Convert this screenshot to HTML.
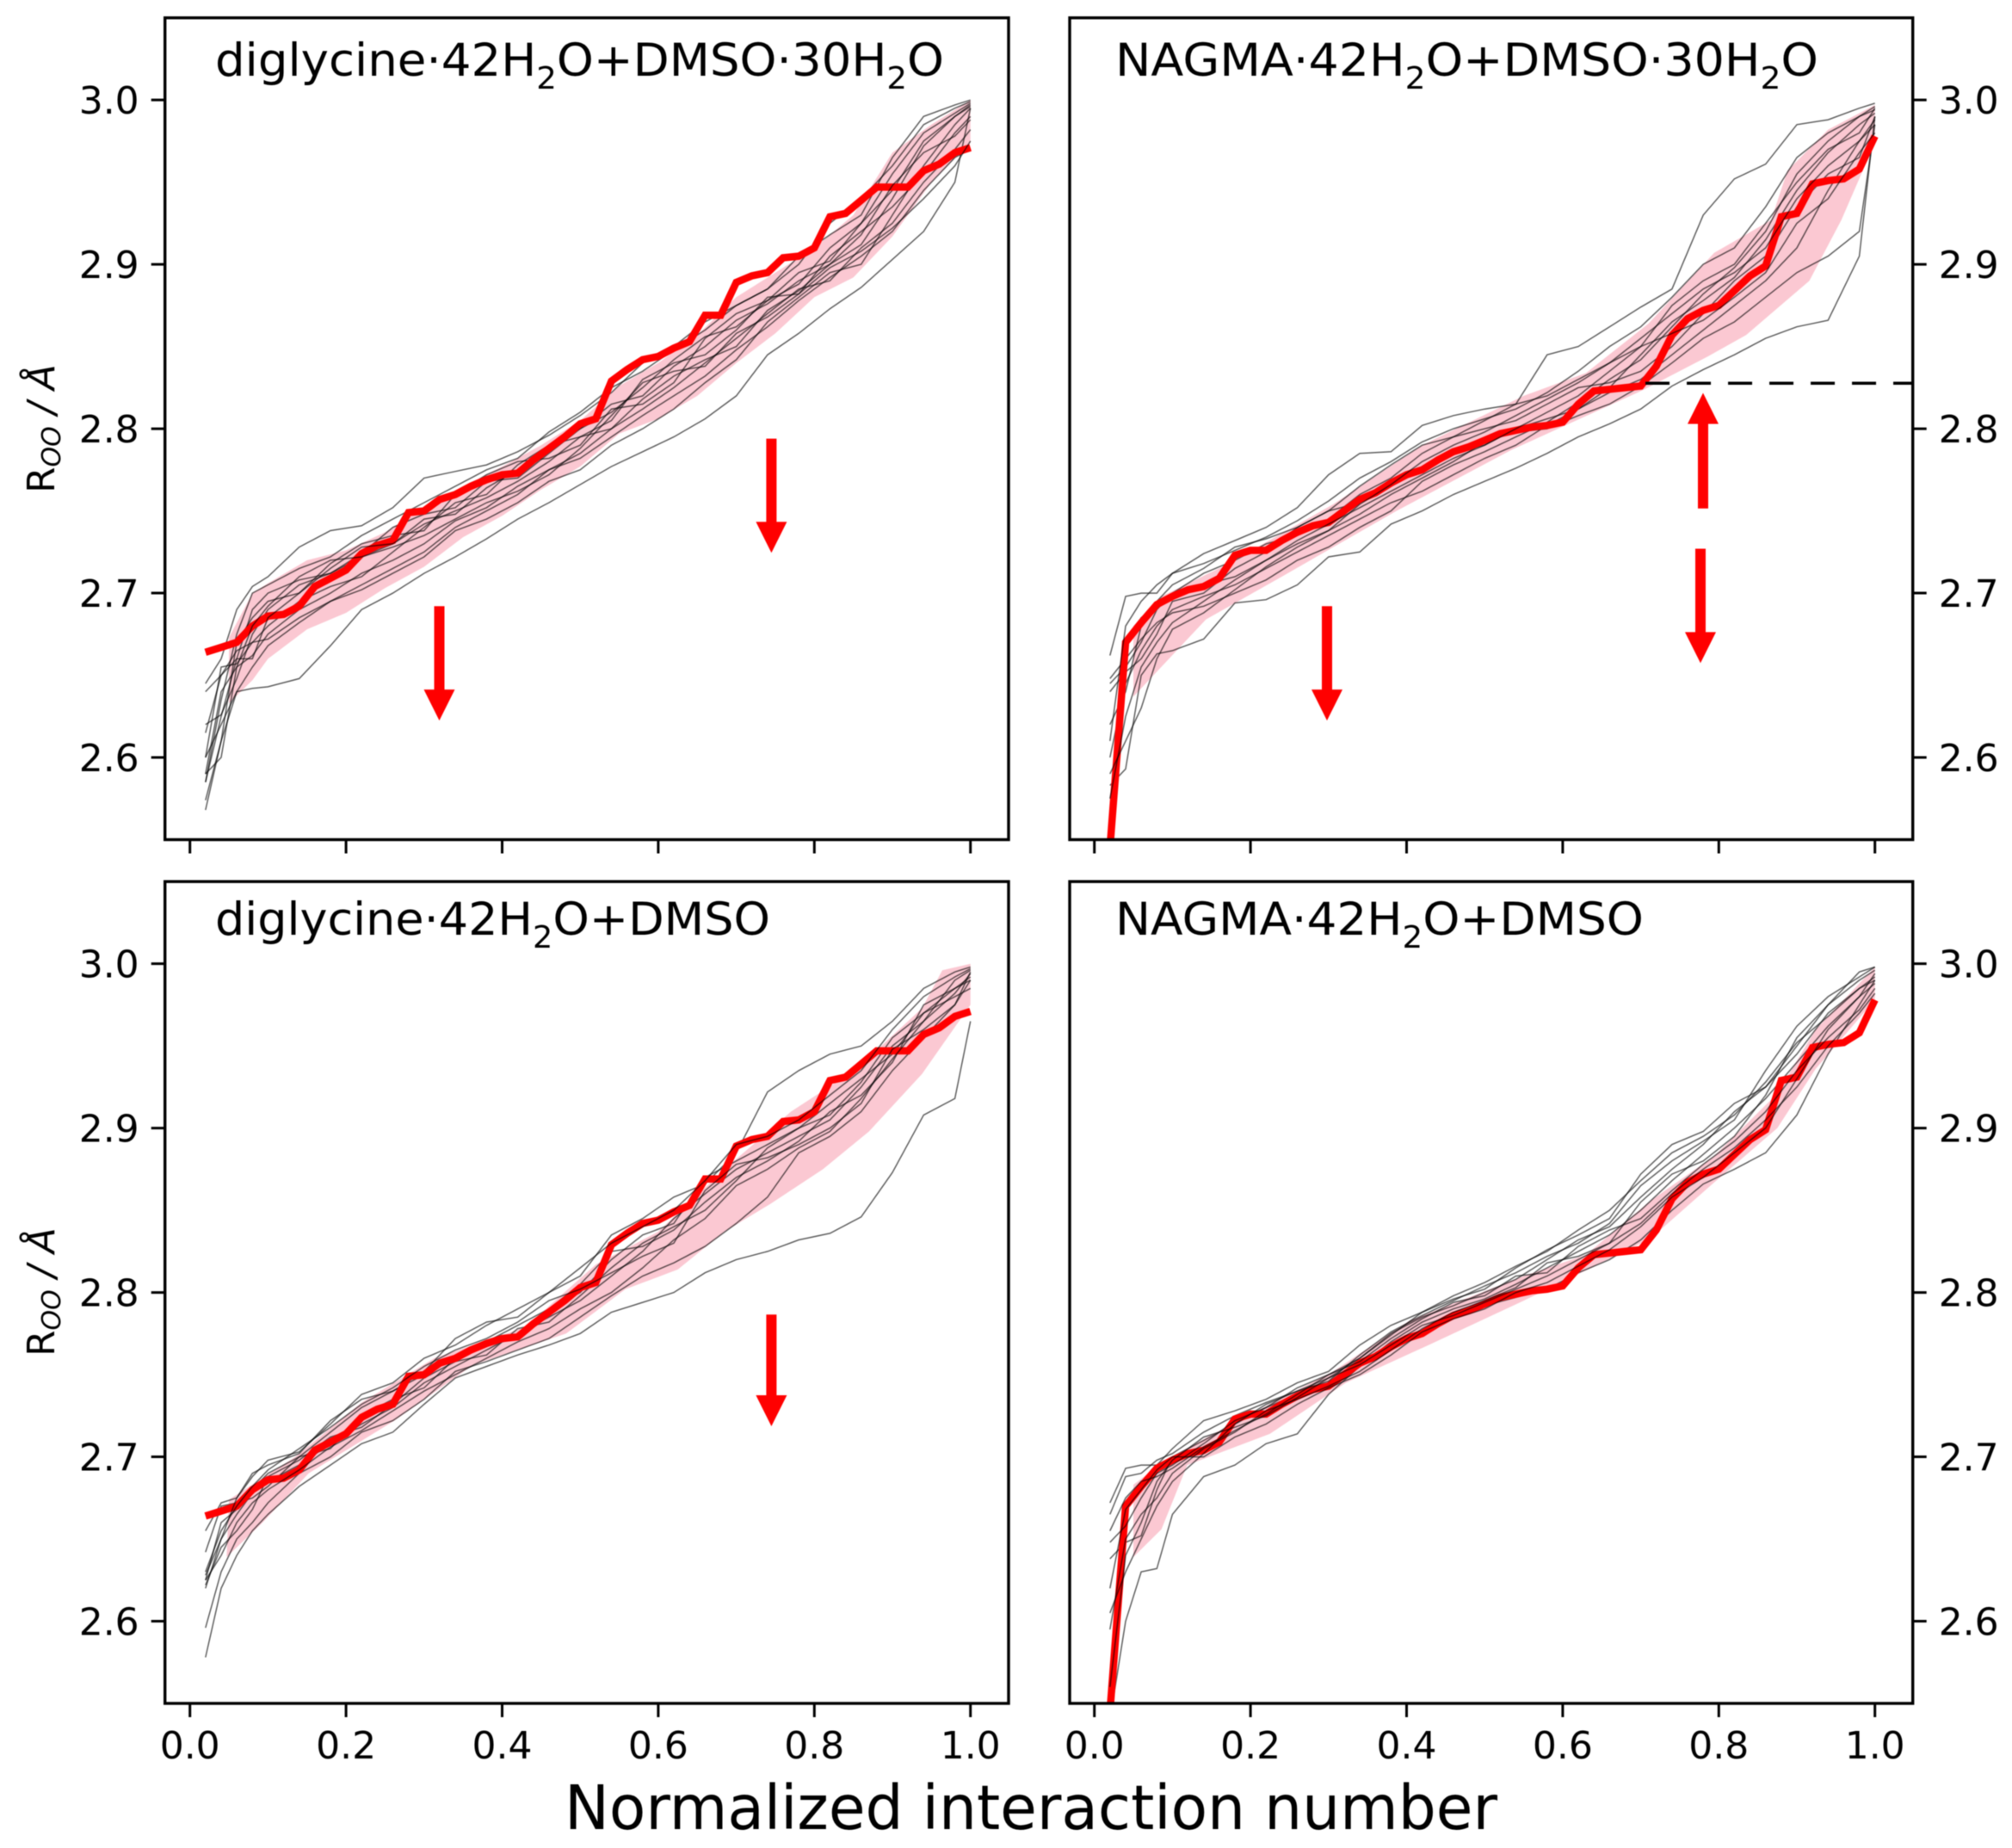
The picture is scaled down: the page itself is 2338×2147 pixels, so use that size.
<!DOCTYPE html>
<html lang="en">
<head>
<meta charset="utf-8">
<title>Sorted O-O distances vs normalized interaction number</title>
<style>
  html, body { margin: 0; padding: 0; background: #fff; }
  svg { display: block; filter: blur(0.5px); }
  .tick-label { font-family: "DejaVu Sans", "Liberation Sans", sans-serif; font-size: 44px; fill: #000; }
  .panel-title { font-family: "DejaVu Sans", "Liberation Sans", sans-serif; font-size: 53px; fill: #000; }
  .axis-label { font-family: "DejaVu Sans", "Liberation Sans", sans-serif; font-size: 43.5px; fill: #000; }
  .figure-label { font-family: "DejaVu Sans", "Liberation Sans", sans-serif; font-size: 71px; fill: #000; }
</style>
</head>
<body>
<svg id="figure" xmlns="http://www.w3.org/2000/svg" width="2338" height="2147" viewBox="0 0 2338 2147">
  <rect x="0" y="0" width="2338" height="2147" fill="#fff"/>
  <defs>
    <clipPath id="clip-a"><rect x="191.7" y="20.7" width="980.3" height="954.8"/></clipPath>
    <clipPath id="clip-b"><rect x="1243" y="20.7" width="979.7" height="954.8"/></clipPath>
    <clipPath id="clip-c"><rect x="191.7" y="1024.2" width="980.3" height="954.8"/></clipPath>
    <clipPath id="clip-d"><rect x="1243" y="1024.2" width="979.7" height="954.8"/></clipPath>
  </defs>
  <g id="panel-a"></g>
  <g id="panel-b"></g>
  <g id="panel-c"></g>
  <g id="panel-d"></g>

  <text class="panel-title" x="250" y="88" textLength="847" lengthAdjust="spacingAndGlyphs">diglycine·42H<tspan font-size="36" dy="15">2</tspan><tspan dy="-15">O+DMSO·30H</tspan><tspan font-size="36" dy="15">2</tspan><tspan dy="-15">O</tspan></text>
  <text class="panel-title" x="1296" y="88" textLength="817" lengthAdjust="spacingAndGlyphs">NAGMA·42H<tspan font-size="36" dy="15">2</tspan><tspan dy="-15">O+DMSO·30H</tspan><tspan font-size="36" dy="15">2</tspan><tspan dy="-15">O</tspan></text>
  <text class="panel-title" x="250" y="1086" textLength="645" lengthAdjust="spacingAndGlyphs">diglycine·42H<tspan font-size="36" dy="15">2</tspan><tspan dy="-15">O+DMSO</tspan></text>
  <text class="panel-title" x="1296" y="1086" textLength="614" lengthAdjust="spacingAndGlyphs">NAGMA·42H<tspan font-size="36" dy="15">2</tspan><tspan dy="-15">O+DMSO</tspan></text>

  <text class="axis-label" text-anchor="middle" transform="translate(63,498) rotate(-90)">R<tspan font-size="30" font-style="italic" dy="7">OO</tspan><tspan font-style="italic" dy="-7"> / Å</tspan></text>
  <text class="axis-label" text-anchor="middle" transform="translate(63,1501) rotate(-90)">R<tspan font-size="30" font-style="italic" dy="7">OO</tspan><tspan font-style="italic" dy="-7"> / Å</tspan></text>

  <text class="figure-label" x="656" y="2125" textLength="1084" lengthAdjust="spacingAndGlyphs">Normalized interaction number</text>
</svg>

<script>
// ---------- axis tick data ----------
const xTicks = [0.0, 0.2, 0.4, 0.6, 0.8, 1.0];
const xTickLabels = ["0.0", "0.2", "0.4", "0.6", "0.8", "1.0"];
const yTicks = [2.6, 2.7, 2.8, 2.9, 3.0];
const yTickLabels = ["2.6", "2.7", "2.8", "2.9", "3.0"];

// ---------- mean (red) curves ----------
const meanX = [0.02,0.04,0.06,0.08,0.10,0.12,0.14,0.16,0.18,0.20,0.22,0.24,0.26,0.28,0.30,0.32,0.34,0.36,0.38,0.40,0.42,0.44,0.46,0.48,0.50,0.52,0.54,0.56,0.58,0.60,0.62,0.64,0.66,0.68,0.70,0.72,0.74,0.76,0.78,0.80,0.82,0.84,0.86,0.88,0.90,0.92,0.94,0.96,0.98,1.00];
const diglycineMean = [2.664,2.667,2.670,2.680,2.686,2.687,2.692,2.704,2.709,2.714,2.724,2.729,2.732,2.749,2.750,2.757,2.760,2.765,2.769,2.772,2.773,2.781,2.788,2.795,2.803,2.806,2.829,2.836,2.842,2.844,2.849,2.853,2.869,2.869,2.889,2.893,2.895,2.904,2.905,2.910,2.929,2.931,2.939,2.947,2.947,2.947,2.957,2.961,2.968,2.971];
const nagmaMean = [2.545,2.670,2.682,2.693,2.698,2.702,2.704,2.709,2.723,2.726,2.726,2.732,2.737,2.741,2.743,2.750,2.757,2.761,2.767,2.772,2.775,2.781,2.786,2.789,2.793,2.797,2.799,2.801,2.802,2.804,2.815,2.823,2.824,2.825,2.826,2.838,2.857,2.867,2.872,2.875,2.884,2.893,2.899,2.929,2.931,2.949,2.951,2.952,2.958,2.978];

// ---------- shaded bands ----------
const bandAX = [0.05,0.08,0.10,0.15,0.20,0.25,0.30,0.35,0.40,0.45,0.50,0.55,0.60,0.65,0.70,0.75,0.80,0.85,0.90,0.95,1.00];
const bandAUpper = [2.673,2.700,2.706,2.720,2.726,2.737,2.752,2.765,2.777,2.790,2.805,2.826,2.840,2.857,2.880,2.895,2.910,2.930,2.968,2.985,3.000];
const bandALower = [2.633,2.647,2.660,2.678,2.688,2.703,2.716,2.734,2.747,2.763,2.777,2.797,2.806,2.820,2.840,2.858,2.880,2.892,2.917,2.950,2.974];

const bandBUpperX = [0.05,0.086,0.168,0.306,0.42,0.55,0.63,0.71,0.794,0.867,0.888,0.94,1.00];
const bandBUpper = [2.680,2.698,2.717,2.754,2.790,2.820,2.834,2.864,2.907,2.927,2.957,2.982,2.997];
const bandBLowerX = [0.05,0.143,0.24,0.387,0.534,0.705,0.786,0.835,0.916,0.957,1.00];
const bandBLower = [2.637,2.684,2.710,2.750,2.787,2.824,2.844,2.857,2.890,2.927,2.974];

const bandCUpperX = [0.05,0.135,0.22,0.313,0.43,0.52,0.60,0.685,0.77,0.854,0.938,0.964,1.00];
const bandCUpper = [2.674,2.700,2.733,2.760,2.779,2.817,2.837,2.875,2.910,2.936,2.973,2.996,3.000];
const bandCLowerX = [0.047,0.093,0.152,0.262,0.363,0.482,0.558,0.625,0.685,0.744,0.811,0.87,0.938,1.00];
const bandCLower = [2.639,2.660,2.690,2.722,2.756,2.775,2.802,2.814,2.837,2.854,2.875,2.898,2.933,2.975];

const bandDUpperX = [0.05,0.094,0.184,0.306,0.404,0.55,0.63,0.713,0.794,0.875,0.924,1.00];
const bandDUpper = [2.683,2.699,2.722,2.752,2.783,2.810,2.823,2.856,2.883,2.921,2.960,2.998];
const bandDLowerX = [0.05,0.086,0.119,0.225,0.322,0.428,0.55,0.615,0.713,0.794,0.875,0.924,1.00];
const bandDLower = [2.639,2.656,2.695,2.714,2.745,2.768,2.795,2.810,2.833,2.867,2.900,2.936,2.978];

// ---------- thin individual curves (shared x grid) ----------
const lineX = [0.02,0.04,0.06,0.08,0.10,0.14,0.18,0.22,0.26,0.30,0.34,0.38,0.42,0.46,0.50,0.54,0.58,0.62,0.66,0.70,0.74,0.78,0.82,0.86,0.90,0.94,0.98,1.00];

const linesA = [
  [2.568,2.610,2.640,2.642,2.643,2.648,2.668,2.690,2.700,2.712,2.722,2.733,2.745,2.755,2.766,2.777,2.786,2.795,2.806,2.820,2.845,2.858,2.873,2.886,2.903,2.920,2.950,2.995],
  [2.645,2.660,2.690,2.704,2.710,2.728,2.738,2.741,2.752,2.770,2.774,2.778,2.786,2.796,2.808,2.822,2.840,2.850,2.865,2.875,2.885,2.905,2.918,2.930,2.965,2.990,2.997,3.000],
  [2.585,2.625,2.660,2.690,2.700,2.708,2.712,2.722,2.730,2.745,2.748,2.764,2.775,2.790,2.800,2.810,2.825,2.842,2.856,2.862,2.878,2.888,2.910,2.925,2.945,2.975,2.990,2.997],
  [2.590,2.640,2.655,2.662,2.675,2.690,2.700,2.712,2.720,2.730,2.744,2.752,2.765,2.775,2.785,2.800,2.812,2.825,2.840,2.855,2.870,2.885,2.890,2.910,2.925,2.950,2.970,2.982],
  [2.620,2.626,2.648,2.675,2.690,2.705,2.712,2.724,2.740,2.748,2.752,2.768,2.770,2.785,2.800,2.815,2.820,2.838,2.850,2.866,2.876,2.890,2.900,2.912,2.940,2.972,2.990,2.996],
  [2.600,2.655,2.657,2.670,2.680,2.695,2.704,2.710,2.725,2.740,2.755,2.760,2.778,2.790,2.795,2.805,2.830,2.840,2.845,2.860,2.880,2.882,2.905,2.920,2.935,2.955,2.980,2.990],
  [2.574,2.610,2.670,2.685,2.695,2.700,2.718,2.730,2.735,2.738,2.760,2.772,2.780,2.782,2.790,2.812,2.815,2.828,2.855,2.870,2.878,2.895,2.902,2.925,2.955,2.980,2.992,2.998],
  [2.640,2.650,2.665,2.670,2.672,2.685,2.695,2.705,2.715,2.725,2.740,2.750,2.760,2.775,2.782,2.795,2.808,2.820,2.832,2.848,2.862,2.878,2.892,2.905,2.920,2.945,2.965,2.970],
  [2.600,2.620,2.640,2.655,2.668,2.682,2.695,2.702,2.712,2.722,2.738,2.745,2.755,2.768,2.775,2.790,2.800,2.812,2.828,2.842,2.865,2.880,2.895,2.900,2.930,2.960,2.985,2.995],
  [2.585,2.635,2.675,2.700,2.705,2.715,2.722,2.735,2.745,2.755,2.765,2.775,2.782,2.798,2.810,2.825,2.835,2.848,2.860,2.875,2.885,2.900,2.925,2.940,2.960,2.985,2.995,2.999],
  [2.615,2.650,2.660,2.660,2.685,2.700,2.715,2.728,2.730,2.742,2.750,2.758,2.768,2.780,2.795,2.800,2.818,2.832,2.842,2.850,2.872,2.884,2.900,2.918,2.948,2.968,2.978,2.988],
  [2.590,2.600,2.655,2.680,2.692,2.710,2.720,2.722,2.728,2.735,2.745,2.755,2.762,2.772,2.788,2.808,2.828,2.835,2.838,2.858,2.868,2.882,2.898,2.908,2.922,2.940,2.960,2.975]
];

const linesB = [
  [2.662,2.698,2.700,2.700,2.712,2.724,2.732,2.740,2.752,2.772,2.785,2.786,2.802,2.808,2.812,2.815,2.845,2.850,2.862,2.874,2.885,2.930,2.952,2.961,2.985,2.988,2.995,2.998],
  [2.583,2.593,2.650,2.663,2.665,2.672,2.694,2.696,2.705,2.722,2.725,2.742,2.750,2.760,2.768,2.776,2.785,2.795,2.803,2.812,2.826,2.836,2.845,2.855,2.862,2.866,2.905,2.990],
  [2.645,2.655,2.670,2.690,2.700,2.712,2.720,2.730,2.735,2.745,2.760,2.770,2.785,2.795,2.800,2.805,2.815,2.825,2.828,2.835,2.850,2.870,2.890,2.905,2.935,2.955,2.965,2.990],
  [2.640,2.652,2.660,2.675,2.695,2.700,2.715,2.725,2.740,2.750,2.755,2.765,2.775,2.785,2.790,2.800,2.806,2.812,2.822,2.830,2.845,2.860,2.875,2.890,2.910,2.945,2.975,2.985],
  [2.620,2.640,2.680,2.695,2.705,2.715,2.728,2.733,2.740,2.750,2.765,2.778,2.790,2.795,2.805,2.815,2.820,2.830,2.840,2.850,2.875,2.890,2.900,2.925,2.950,2.970,2.980,2.995],
  [2.565,2.670,2.685,2.692,2.700,2.705,2.710,2.720,2.730,2.738,2.748,2.760,2.770,2.780,2.792,2.798,2.800,2.808,2.815,2.826,2.840,2.855,2.865,2.880,2.895,2.905,2.920,2.985],
  [2.600,2.645,2.665,2.680,2.690,2.698,2.705,2.715,2.725,2.735,2.745,2.755,2.762,2.772,2.782,2.790,2.802,2.812,2.825,2.845,2.865,2.878,2.892,2.915,2.945,2.968,2.985,2.992],
  [2.648,2.660,2.672,2.682,2.688,2.692,2.700,2.708,2.720,2.728,2.740,2.750,2.768,2.778,2.786,2.795,2.804,2.816,2.830,2.842,2.862,2.882,2.898,2.920,2.955,2.975,2.990,2.996],
  [2.575,2.625,2.655,2.670,2.682,2.695,2.708,2.720,2.732,2.742,2.752,2.762,2.772,2.782,2.790,2.800,2.810,2.820,2.835,2.850,2.858,2.866,2.880,2.895,2.925,2.940,2.968,2.980],
  [2.610,2.680,2.695,2.705,2.712,2.718,2.726,2.734,2.744,2.756,2.770,2.780,2.792,2.800,2.806,2.812,2.822,2.835,2.850,2.862,2.880,2.900,2.910,2.935,2.965,2.980,2.990,2.994],
  [2.590,2.610,2.630,2.660,2.678,2.688,2.702,2.716,2.728,2.738,2.754,2.766,2.780,2.790,2.798,2.808,2.818,2.828,2.840,2.855,2.870,2.885,2.895,2.910,2.940,2.960,2.975,2.988]
];

const linesC = [
  [2.578,2.620,2.640,2.655,2.665,2.682,2.695,2.708,2.715,2.732,2.748,2.755,2.762,2.768,2.775,2.788,2.794,2.800,2.812,2.820,2.825,2.832,2.836,2.846,2.873,2.908,2.918,2.965],
  [2.596,2.630,2.650,2.660,2.672,2.690,2.700,2.715,2.722,2.735,2.752,2.758,2.765,2.772,2.785,2.798,2.810,2.818,2.828,2.842,2.858,2.885,2.895,2.910,2.935,2.955,2.975,2.990],
  [2.655,2.672,2.675,2.690,2.695,2.702,2.722,2.735,2.740,2.752,2.772,2.782,2.785,2.800,2.810,2.835,2.845,2.858,2.866,2.885,2.922,2.935,2.945,2.950,2.965,2.985,2.995,2.998],
  [2.625,2.660,2.668,2.680,2.690,2.700,2.715,2.730,2.740,2.750,2.760,2.770,2.780,2.790,2.800,2.820,2.835,2.842,2.870,2.880,2.890,2.900,2.915,2.930,2.945,2.970,2.985,2.992],
  [2.628,2.650,2.665,2.678,2.685,2.695,2.708,2.720,2.730,2.745,2.755,2.765,2.775,2.785,2.795,2.810,2.825,2.845,2.860,2.875,2.885,2.895,2.905,2.925,2.950,2.965,2.990,2.996],
  [2.642,2.670,2.672,2.675,2.682,2.700,2.705,2.725,2.735,2.742,2.760,2.768,2.772,2.790,2.805,2.825,2.828,2.838,2.855,2.870,2.880,2.892,2.910,2.920,2.940,2.975,2.985,2.990],
  [2.622,2.645,2.655,2.668,2.688,2.698,2.712,2.718,2.732,2.748,2.758,2.762,2.778,2.782,2.798,2.815,2.830,2.840,2.850,2.868,2.888,2.900,2.908,2.928,2.955,2.970,2.980,2.985],
  [2.630,2.655,2.670,2.682,2.692,2.705,2.718,2.732,2.742,2.755,2.765,2.772,2.782,2.795,2.802,2.812,2.822,2.830,2.862,2.878,2.882,2.890,2.900,2.915,2.948,2.960,2.975,2.995],
  [2.625,2.640,2.660,2.672,2.680,2.692,2.706,2.716,2.728,2.740,2.750,2.760,2.770,2.778,2.790,2.800,2.815,2.832,2.845,2.865,2.875,2.888,2.898,2.918,2.942,2.965,2.982,2.994],
  [2.620,2.650,2.675,2.688,2.698,2.703,2.720,2.738,2.745,2.760,2.768,2.780,2.790,2.800,2.815,2.830,2.840,2.850,2.868,2.890,2.895,2.905,2.920,2.935,2.960,2.980,2.992,2.997]
];

const linesD = [
  [2.540,2.600,2.630,2.632,2.665,2.688,2.695,2.708,2.714,2.738,2.755,2.765,2.775,2.785,2.792,2.797,2.802,2.812,2.820,2.832,2.850,2.866,2.875,2.885,2.908,2.945,2.975,2.990],
  [2.672,2.693,2.695,2.695,2.705,2.722,2.728,2.735,2.745,2.752,2.768,2.780,2.788,2.796,2.802,2.815,2.826,2.835,2.845,2.872,2.890,2.898,2.915,2.925,2.950,2.975,2.995,2.998],
  [2.665,2.688,2.690,2.698,2.702,2.715,2.725,2.733,2.740,2.748,2.760,2.775,2.785,2.792,2.800,2.808,2.820,2.832,2.840,2.858,2.875,2.890,2.910,2.925,2.945,2.970,2.985,2.992],
  [2.638,2.648,2.652,2.680,2.700,2.710,2.720,2.730,2.738,2.745,2.755,2.770,2.782,2.790,2.796,2.805,2.815,2.825,2.835,2.850,2.868,2.884,2.900,2.918,2.940,2.962,2.980,2.988],
  [2.595,2.650,2.665,2.675,2.690,2.705,2.715,2.728,2.735,2.743,2.752,2.765,2.778,2.788,2.795,2.803,2.818,2.822,2.830,2.855,2.872,2.880,2.895,2.920,2.955,2.975,2.990,2.996],
  [2.648,2.658,2.675,2.690,2.695,2.708,2.722,2.730,2.742,2.750,2.758,2.772,2.784,2.794,2.798,2.810,2.812,2.828,2.838,2.845,2.862,2.878,2.892,2.910,2.935,2.955,2.972,2.985],
  [2.560,2.640,2.660,2.685,2.698,2.712,2.718,2.725,2.736,2.748,2.756,2.768,2.780,2.786,2.794,2.802,2.810,2.820,2.830,2.842,2.860,2.875,2.888,2.905,2.925,2.950,2.970,2.982],
  [2.620,2.668,2.680,2.692,2.700,2.700,2.712,2.720,2.732,2.742,2.750,2.762,2.776,2.784,2.790,2.800,2.806,2.816,2.826,2.840,2.858,2.870,2.885,2.900,2.930,2.960,2.980,2.994],
  [2.605,2.630,2.650,2.670,2.685,2.702,2.720,2.732,2.740,2.746,2.762,2.776,2.786,2.795,2.804,2.812,2.822,2.830,2.842,2.865,2.880,2.892,2.905,2.935,2.962,2.980,2.992,2.998],
  [2.655,2.675,2.685,2.688,2.693,2.706,2.716,2.726,2.738,2.750,2.760,2.774,2.788,2.798,2.806,2.816,2.825,2.838,2.850,2.868,2.885,2.895,2.908,2.928,2.952,2.968,2.985,2.990]
];

// ---------- annotations: [x, tail value, tip value] ----------
const arrowsA = [[0.3195, 2.692, 2.6225], [0.745, 2.794, 2.7245]];
const arrowsB = [[0.298, 2.692, 2.6225], [0.7798, 2.7515, 2.8218], [0.7765, 2.727, 2.6574]];
const arrowsC = [[0.745, 2.7866, 2.7186]];
const arrowsD = [];
const dashLevelB = [0.706, 2.8277];

// ---------- rendering ----------
const NS = 'http://www.w3.org/2000/svg';
const Y_MIN = 2.55, Y_MAX = 3.05;
const X_UNIT = 907;

function svgEl(tag) { return document.createElementNS(NS, tag); }

function makeXScale(zero) {
  return v => zero + v * X_UNIT;
}
function makeYScale(top, bottom) {
  return v => bottom - (v - Y_MIN) / (Y_MAX - Y_MIN) * (bottom - top);
}
function pathFrom(xs, ys, sx, sy) {
  return xs.map((x, i) => (i ? 'L' : 'M') + sx(x).toFixed(1) + ' ' + sy(ys[i]).toFixed(1)).join(' ');
}

function drawCurve(parent, vals, sx, sy) {
  const line = svgEl('path');
  
  
  line.setAttribute('d', pathFrom(lineX, vals, sx, sy));
  line.setAttribute('fill', 'none');
  line.setAttribute('stroke', '#000');
  line.setAttribute('stroke-opacity', '0.62');
  line.setAttribute('stroke-width', '1.5');
  parent.appendChild(line);
}

function drawPanel(cfg) {
  const g = document.getElementById(cfg.id);
  const sx = makeXScale(cfg.zero);
  const sy = makeYScale(cfg.top, cfg.bottom);

  const plot = svgEl('g');
  
  
  plot.setAttribute('clip-path', 'url(#' + cfg.clip + ')');
  g.appendChild(plot);

  const band = svgEl('path');
  
  
  const upperPath = pathFrom(cfg.upperX, cfg.upper, sx, sy);
  const lowerRevX = cfg.lowerX.slice().reverse();
  const lowerRevY = cfg.lower.slice().reverse();
  band.setAttribute('d', upperPath + ' ' + pathFrom(lowerRevX, lowerRevY, sx, sy).replace('M', 'L') + ' Z');
  band.setAttribute('fill', '#fbc8d2');
  plot.appendChild(band);

  const split = cfg.lines.length - cfg.overCount;
  cfg.lines.slice(0, split).forEach(vals => drawCurve(plot, vals, sx, sy));

  const mean = svgEl('path');
  
  
  mean.setAttribute('d', pathFrom(meanX, cfg.mean, sx, sy));
  mean.setAttribute('fill', 'none');
  mean.setAttribute('stroke', '#ff0000');
  mean.setAttribute('stroke-width', '8.5');
  mean.setAttribute('stroke-linejoin', 'miter');
  plot.appendChild(mean);

  cfg.lines.slice(split).forEach(vals => drawCurve(plot, vals, sx, sy));

  if (cfg.dash) {
    const dash = svgEl('line');
    
    
    dash.setAttribute('x1', sx(cfg.dash[0]));
    dash.setAttribute('x2', cfg.right);
    dash.setAttribute('y1', sy(cfg.dash[1]));
    dash.setAttribute('y2', sy(cfg.dash[1]));
    dash.setAttribute('stroke', '#000');
    dash.setAttribute('stroke-width', '3.5');
    dash.setAttribute('stroke-dasharray', '28 20');
    g.appendChild(dash);
  }

  cfg.arrows.forEach(a => {
    const px = sx(a[0]), tail = sy(a[1]), tip = sy(a[2]);
    const dir = tip > tail ? 1 : -1;
    const base = tip - dir * 36;
    const arrow = svgEl('polygon');
    
    
    arrow.setAttribute('points', [
      [px - 6, tail], [px + 6, tail], [px + 6, base], [px + 18, base],
      [px, tip], [px - 18, base], [px - 6, base]
    ].map(p => p[0].toFixed(1) + ',' + p[1].toFixed(1)).join(' '));
    arrow.setAttribute('fill', '#ff0000');
    g.appendChild(arrow);
  });

  const frame = svgEl('rect');
  
  
  frame.setAttribute('x', cfg.left);
  frame.setAttribute('y', cfg.top);
  frame.setAttribute('width', cfg.right - cfg.left);
  frame.setAttribute('height', cfg.bottom - cfg.top);
  frame.setAttribute('fill', 'none');
  frame.setAttribute('stroke', '#000');
  frame.setAttribute('stroke-width', '3.4');
  g.appendChild(frame);

  xTicks.forEach((t, i) => {
    const tick = svgEl('line');
    
    
    tick.setAttribute('x1', sx(t));
    tick.setAttribute('x2', sx(t));
    tick.setAttribute('y1', cfg.bottom);
    tick.setAttribute('y2', cfg.bottom + 16);
    tick.setAttribute('stroke', '#000');
    tick.setAttribute('stroke-width', '3');
    g.appendChild(tick);
    if (cfg.showXLabels) {
      const label = svgEl('text');
      
      
      label.setAttribute('class', 'tick-label');
      label.setAttribute('x', sx(t));
      label.setAttribute('y', cfg.bottom + 64);
      label.setAttribute('text-anchor', 'middle');
      label.textContent = xTickLabels[i];
      g.appendChild(label);
    }
  });

  yTicks.forEach((t, i) => {
    const side = cfg.yRight ? 1 : -1;
    const edge = cfg.yRight ? cfg.right : cfg.left;
    const tick = svgEl('line');
    
    
    tick.setAttribute('x1', edge);
    tick.setAttribute('x2', edge + side * 16);
    tick.setAttribute('y1', sy(t));
    tick.setAttribute('y2', sy(t));
    tick.setAttribute('stroke', '#000');
    tick.setAttribute('stroke-width', '3');
    g.appendChild(tick);
    const label = svgEl('text');
    
    
    label.setAttribute('class', 'tick-label');
    label.setAttribute('x', edge + side * 30);
    label.setAttribute('y', sy(t) + 16);
    label.setAttribute('text-anchor', cfg.yRight ? 'start' : 'end');
    label.textContent = yTickLabels[i];
    g.appendChild(label);
  });
}

drawPanel({ id: 'panel-a', clip: 'clip-a', left: 191.7, right: 1172, zero: 220.7, top: 20.7, bottom: 975.5,
  mean: diglycineMean, upperX: bandAX, upper: bandAUpper, lowerX: bandAX, lower: bandALower,
  lines: linesA, overCount: 2, arrows: arrowsA, showXLabels: false, yRight: false });
drawPanel({ id: 'panel-b', clip: 'clip-b', left: 1243, right: 2222.7, zero: 1271.7, top: 20.7, bottom: 975.5,
  mean: nagmaMean, upperX: bandBUpperX, upper: bandBUpper, lowerX: bandBLowerX, lower: bandBLower,
  lines: linesB, overCount: 3, arrows: arrowsB, dash: dashLevelB, showXLabels: false, yRight: true });
drawPanel({ id: 'panel-c', clip: 'clip-c', left: 191.7, right: 1172, zero: 220.7, top: 1024.2, bottom: 1979,
  mean: diglycineMean, upperX: bandCUpperX, upper: bandCUpper, lowerX: bandCLowerX, lower: bandCLower,
  lines: linesC, overCount: 3, arrows: arrowsC, showXLabels: true, yRight: false });
drawPanel({ id: 'panel-d', clip: 'clip-d', left: 1243, right: 2222.7, zero: 1271.7, top: 1024.2, bottom: 1979,
  mean: nagmaMean, upperX: bandDUpperX, upper: bandDUpper, lowerX: bandDLowerX, lower: bandDLower,
  lines: linesD, overCount: 6, arrows: arrowsD, showXLabels: true, yRight: true });
</script>
</body>
</html>
